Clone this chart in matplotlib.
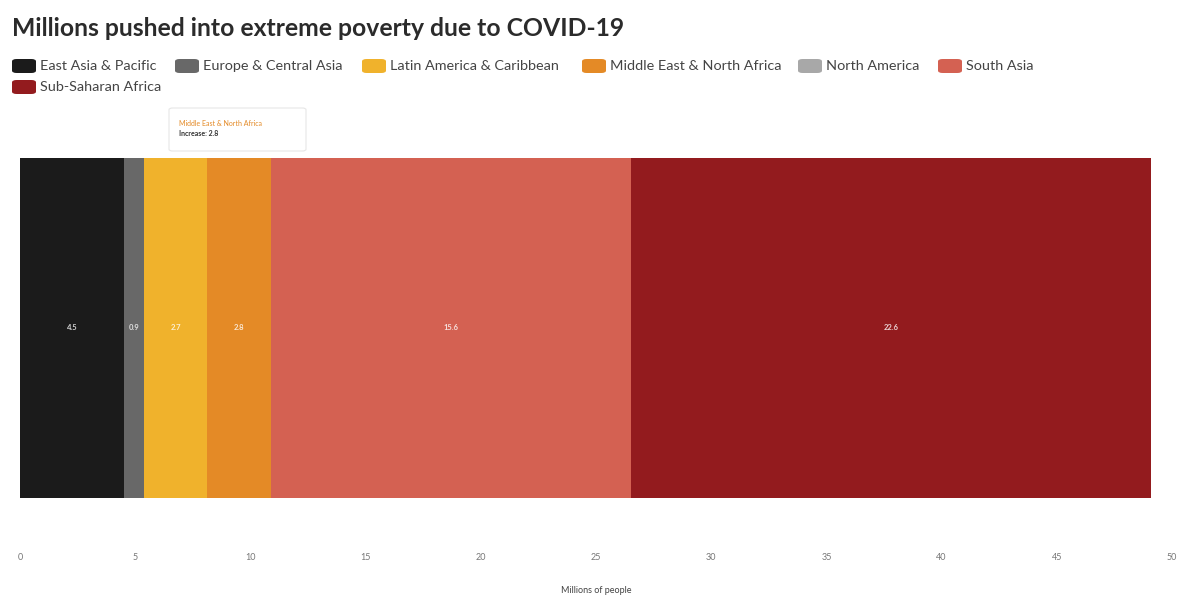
import matplotlib.pyplot as plt
from matplotlib.patches import FancyBboxPatch

plt.rcParams['font.family'] = ['Lato', 'DejaVu Sans']

# data
regions = ['East Asia & Pacific', 'Europe & Central Asia', 'Latin America & Caribbean',
           'Middle East & North Africa', 'North America', 'South Asia', 'Sub-Saharan Africa']
increase = [4.5, 0.9, 2.7, 2.8, 0.0, 15.6, 22.6]
colors = ['#1b1b1b', '#686868', '#f0b22c', '#e48a26', '#a8a8a8', '#d46152', '#931b1e']
xticks = [0, 5, 10, 15, 20, 25, 30, 35, 40, 45, 50]

W, H = 1184, 601
fig = plt.figure(figsize=(W / 100, H / 100), dpi=100)
ax = fig.add_axes([20 / W, 1 - 528 / H, 1152 / W, 400 / H])

left = 0
for name, val, c in zip(regions, increase, colors):
    if val > 0:
        ax.barh(0, val, left=left, height=0.85, color=c, edgecolor='none')
        ax.text(left + val / 2, 0, f'{val:.1f}', ha='center', va='center',
                color='white', fontsize=5.5, fontweight='bold', alpha=0.8)
    left += val

ax.set_xlim(0, 50)
ax.set_ylim(-0.5, 0.5)
ax.set_yticks([])
ax.set_xticks(xticks)
ax.set_xticklabels([str(t) for t in xticks])
ax.tick_params(axis='x', length=0, pad=18, labelsize=6.5, labelcolor='#777777')
for s in ax.spines.values():
    s.set_visible(False)
ax.set_xlabel('Millions of people', fontsize=6.5, color='#444444', labelpad=17)

fig.text(12 / W, 1 - 28 / H, 'Millions pushed into extreme poverty due to COVID-19',
         fontsize=17.8, fontweight='bold', color='#2b2b2b', va='center', ha='left')

# legend placed to match the reference
leg_pos = [(12, 66), (175, 66), (362, 66), (582, 66), (798, 66), (938, 66), (12, 87)]
for (px, py), name, c in zip(leg_pos, regions, colors):
    sw = FancyBboxPatch((px / W, (H - py - 7) / H), 24 / W, 14 / H,
                        boxstyle='round,pad=0,rounding_size=0.004',
                        transform=fig.transFigure, facecolor=c, edgecolor='none')
    fig.add_artist(sw)
    fig.text((px + 28) / W, 1 - py / H, name, fontsize=10.4, color='#444444',
             va='center', ha='left')

# tooltip over Middle East & North Africa
tip = FancyBboxPatch((169 / W, 1 - 151 / H), 137 / W, 43 / H,
                     boxstyle='round,pad=0,rounding_size=0.003',
                     transform=fig.transFigure, facecolor='white', edgecolor='#e6e6e6', lw=0.8)
fig.add_artist(tip)
fig.text(179 / W, 1 - 123 / H, regions[3], fontsize=5, color='#e48a26', va='center')
fig.text(179 / W, 1 - 134 / H, f'Increase: {increase[3]:.1f}', fontsize=5,
         color='#333333', va='center', fontweight='bold')

fig.savefig('out.png', dpi=100, facecolor='white')
